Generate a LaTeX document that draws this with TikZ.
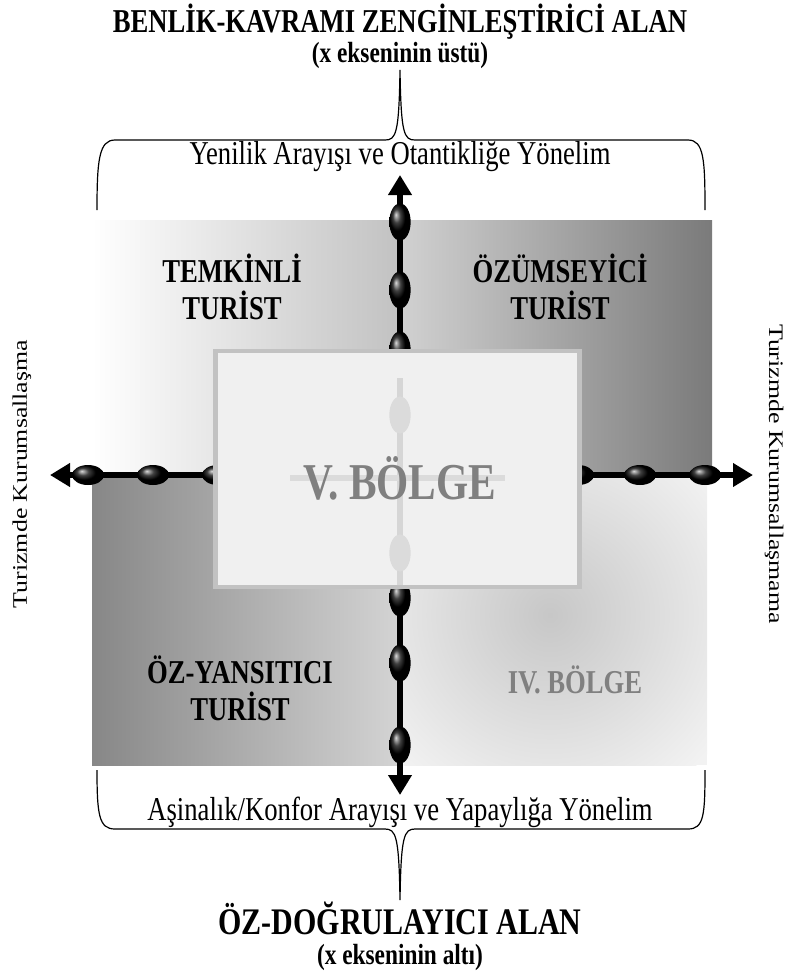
\documentclass[tikz,border=0pt]{standalone}
\usepackage{fontspec}
\setmainfont{Liberation Serif}
\usetikzlibrary{arrows.meta,shapes.geometric}

\tikzstyle{axis} = [draw,line width=3.8pt,{Triangle[width=17pt,length=15pt]}-{Triangle[width=17pt,length=15pt]}]
\tikzstyle{bead} = [ellipse,shade,ball color=black,inner sep=0pt]
\tikzstyle{vbead} = [bead,minimum width=16pt,minimum height=28pt]
\tikzstyle{hbead} = [bead,minimum width=24pt,minimum height=15pt]
\tikzstyle{faint bead} = [ellipse,fill=black!14,inner sep=0pt,minimum width=16pt,minimum height=28pt]
\tikzstyle{brace} = [draw,line width=0.9pt]
\tikzstyle{tall} = [yscale=1.25,inner sep=1pt]
\tikzstyle{title} = [tall,font=\fontsize{20}{24}\selectfont\bfseries]
\tikzstyle{big title} = [tall,font=\fontsize{22.5}{26}\selectfont\bfseries]
\tikzstyle{subtitle} = [tall,font=\fontsize{17.5}{20}\selectfont\bfseries]
\tikzstyle{caption} = [tall,font=\fontsize{20}{24}\selectfont]
\tikzstyle{side} = [font=\fontsize{15.5}{18}\selectfont]
\tikzstyle{quadlabel} = [tall,font=\fontsize{20}{22}\selectfont\bfseries,align=center]
\tikzstyle{vbox} = [draw=black!24,line width=3.5pt,fill=black!6,
                    minimum width=273pt,minimum height=177pt]

\begin{document}
\begin{tikzpicture}[x=0.75pt,y=-0.75pt]
\useasboundingbox (0,0) rectangle (791,972);

% quadrant backgrounds
\shade[left color=white,right color=black!24] (92,220) rectangle (400,475);
\shade[left color=black!18,right color=black!52] (400,220) rectangle (712,475);
\shade[left color=black!47,right color=black!17] (92,475) rectangle (400,765);
\fill[black!5] (400,475) rectangle (707,765);
\begin{scope}
\clip (400,475) rectangle (707,765);
\shade[inner color=black!22,outer color=black!5] (550,615) circle (210);
\end{scope}

% axes
\coordinate (N) at (400,175);
\coordinate (S) at (400,795);
\coordinate (W) at (50,475);
\coordinate (E) at (753,475);
\path[axis] (S) -- (N);
\path[axis] (W) -- (E);
\foreach \y in {222,290,350,598,663,745}{
  \node[vbead] (v\y) at (400,\y) {};
}
\foreach \x in {88,153,218,578,640,705}{
  \node[hbead] (h\x) at (\x,475) {};
}

% central region
\node[vbox] (region5) at (397.5,469) {};
\draw[black!16,line width=3.8pt] (400,378) -- (400,585);
\draw[black!14,line width=3.8pt] (290,478) -- (505,478);
\foreach \y in {415,553}{
  \node[faint bead] (f\y) at (400,\y) {};
}
\node[tall,font=\fontsize{31}{34}\selectfont\bfseries,text=black!50] (label5) at (400,478) {V. BÖLGE};

% quadrant labels
\node[quadlabel] (cautious) at (232,287) {TEMKİNLİ\\TURİST};
\node[quadlabel] (assimilator) at (560,287) {ÖZÜMSEYİCİ\\TURİST};
\node[quadlabel] (reflective) at (240,688) {ÖZ-YANSITICI\\TURİST};
\node[quadlabel,text=black!50] (region4) at (575,680) {IV. BÖLGE};

% side labels
\node[side,rotate=90] (left) at (22,474) {\scalebox{1.25}[1]{Turizmde Kurumsallaşma}};
\node[side,rotate=-90] (right) at (774,474) {\scalebox{1.25}[1]{Turizmde Kurumsallaşmama}};

% top area
\node[title] (topTitle) at (400,22) {BENLİK-KAVRAMI ZENGİNLEŞTİRİCİ ALAN};
\node[subtitle] (topSub) at (400,55) {(x ekseninin üstü)};
\node[caption] (topCap) at (400,157) {Yenilik Arayışı ve Otantikliğe Yönelim};
\coordinate (topTip) at (400,70);
\path[brace] (97,210) .. controls (97,160) and (99,140) .. (115,140) -- (385,140)
  .. controls (396,140) and (399,134) .. (topTip)
  .. controls (401,134) and (404,140) .. (415,140) -- (688,140)
  .. controls (704,140) and (705,160) .. (705,210);

% bottom area
\node[caption] (bottomCap) at (400,812) {Aşinalık/Konfor Arayışı ve Yapaylığa Yönelim};
\node[big title,anchor=base,inner sep=0.5pt] (bottomTitle) at (400,934) {ÖZ-DOĞRULAYICI ALAN};
\node[subtitle,anchor=base,inner sep=0.5pt] (bottomSub) at (400,964) {(x ekseninin altı)};
\coordinate (bottomTip) at (400,900);
\path[brace] (97,770) .. controls (97,815) and (99,829) .. (115,829) -- (385,829)
  .. controls (396,829) and (399,836) .. (bottomTip)
  .. controls (401,836) and (404,829) .. (415,829) -- (688,829)
  .. controls (704,829) and (705,815) .. (705,770);
\end{tikzpicture}
\end{document}
